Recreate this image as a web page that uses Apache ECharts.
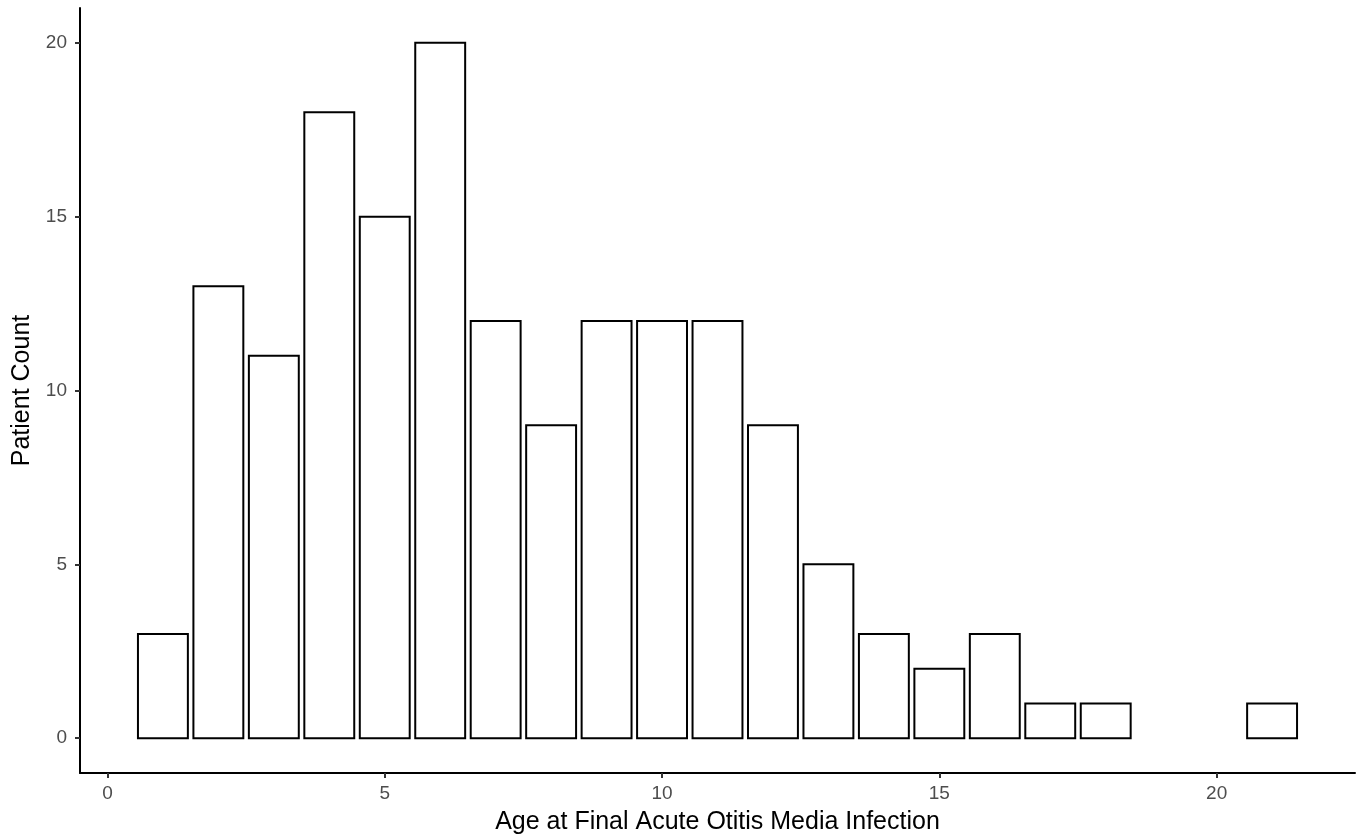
<!DOCTYPE html>
<html><head><meta charset="utf-8">
<script src="https://cdn.jsdelivr.net/npm/echarts@6/dist/echarts.min.js"></script>
<style>html,body{margin:0;padding:0;background:#fff}#c{width:1357px;height:837px}</style>
</head><body><div id="c"></div>
<script>
const ages = [1,2,3,4,5,6,7,8,9,10,11,12,13,14,15,16,17,18,21];
const counts = [3,13,11,18,15,20,12,9,12,12,12,9,5,3,2,3,1,1,1];
const xTicks = [0,5,10,15,20];
const yTicks = [0,5,10,15,20];
const barW = 0.9;

const chart = echarts.init(document.getElementById('c'), null, {renderer:'canvas'});
const lab = {color:'#4d4d4d', fontSize:19, fontFamily:'Liberation Sans, Arial, sans-serif'};
chart.setOption({
  animation:false,
  grid:{left:80, right:2, top:8, bottom:64, containLabel:false, outerBoundsMode:'none'},
  xAxis:{type:'value', min:-0.495, max:22.495,
    name:'Age at Final Acute Otitis Media Infection', nameLocation:'middle', nameGap:37,
    nameTextStyle:{color:'#000', fontSize:25, fontFamily:'Liberation Sans, Arial, sans-serif'},
    axisLine:{onZero:false, lineStyle:{color:'#000', width:2}},
    axisTick:{show:true, length:5, customValues:xTicks, lineStyle:{color:'#333', width:2}},
    axisLabel:Object.assign({customValues:xTicks, margin:11}, lab),
    splitLine:{show:false}},
  yAxis:{type:'value', min:-1, max:21,
    name:'Patient Count', nameLocation:'middle', nameGap:44,
    nameTextStyle:{color:'#000', fontSize:25, fontFamily:'Liberation Sans, Arial, sans-serif'},
    axisLine:{show:true, onZero:false, lineStyle:{color:'#000', width:2}},
    axisTick:{show:true, length:5, customValues:yTicks, lineStyle:{color:'#333', width:2}},
    axisLabel:Object.assign({customValues:yTicks, margin:13}, lab),
    splitLine:{show:false}},
  series:[{
    type:'custom',
    data: ages.map((a,i)=>[a, counts[i]]),
    renderItem:function(params, api){
      const x = api.value(0), y = api.value(1);
      const p0 = api.coord([x - barW/2, y]);
      const p1 = api.coord([x + barW/2, 0]);
      return {type:'rect', shape:{x:p0[0], y:p0[1], width:p1[0]-p0[0], height:p1[1]-p0[1]},
        style:{fill:'#fff', stroke:'#000', lineWidth:2}};
    }
  }]
});
</script></body></html>
